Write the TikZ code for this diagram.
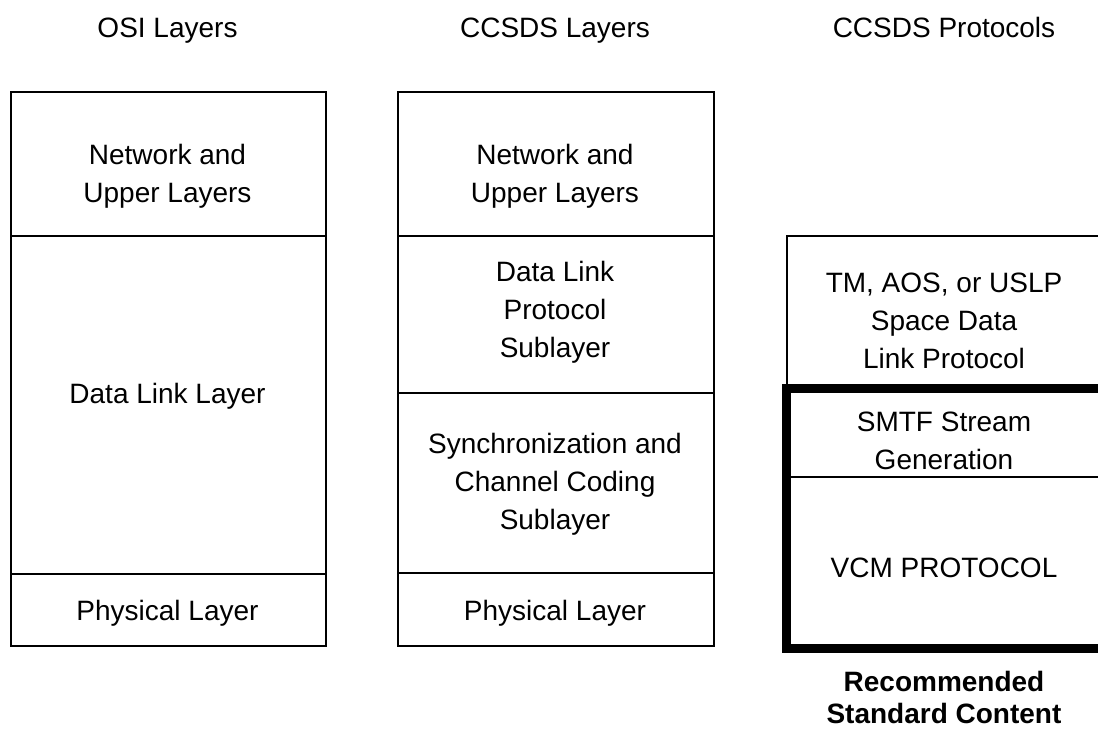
\documentclass[tikz,border=0pt]{standalone}
\usepackage{fontspec}
\setmainfont{Liberation Sans}
\begin{document}
\begin{tikzpicture}[x=1pt,y=-1pt,
  cell/.style={draw, line width=2pt, anchor=north west, inner sep=0pt},
  txt/.style={inner sep=0pt, align=center, anchor=base,
    font=\fontsize{28}{38}\selectfont},
  stdborder/.style={draw, line width=9pt}]
\useasboundingbox (0,0) rectangle (1098,729);
\clip (0,0) rectangle (1098,729);
% headers
\node[txt] (hosi) at (167.5,37) {OSI Layers};
\node[txt] (hccsds) at (555,37) {CCSDS Layers};
\node[txt] (hprot) at (944,37) {CCSDS Protocols};
% OSI column
\node[cell, minimum width=315pt, minimum height=144pt] (osinet) at (10,91) {};
\node[cell, minimum width=315pt, minimum height=338pt] (osidll) at (10,235) {};
\node[cell, minimum width=315pt, minimum height=72pt] (osiphy) at (10,573) {};
\node[txt] (osinet-t) at (167.5,202) {Network and\\Upper Layers};
\node[txt] (osidll-t) at (167.5,403) {Data Link Layer};
\node[txt] (osiphy-t) at (167.5,620) {Physical Layer};
% CCSDS column
\node[cell, minimum width=316pt, minimum height=144pt] (cnet) at (397,91) {};
\node[cell, minimum width=316pt, minimum height=157pt] (cdlp) at (397,235) {};
\node[cell, minimum width=316pt, minimum height=180pt] (csync) at (397,392) {};
\node[cell, minimum width=316pt, minimum height=73pt] (cphy) at (397,572) {};
\node[txt] (cnet-t) at (555,202) {Network and\\Upper Layers};
\node[txt] (cdlp-t) at (555,357) {Data Link\\Protocol\\Sublayer};
\node[txt] (csync-t) at (555,529) {Synchronization and\\Channel Coding\\Sublayer};
\node[txt] (cphy-t) at (555,620) {Physical Layer};
% Protocols column
\node[cell, minimum width=316pt, minimum height=153pt] (ptm) at (786,235) {};
\node[cell, minimum width=316pt, minimum height=88pt] (psmtf) at (786,388) {};
\node[cell, minimum width=316pt, minimum height=170pt] (pvcm) at (786,476) {};
\draw[stdborder] (psmtf.north west) rectangle (pvcm.south east);
\node[txt] (ptm-t) at (944,368) {TM, AOS, or USLP\\Space Data\\Link Protocol};
\node[txt] (psmtf-t) at (944,469) {SMTF Stream\\Generation};
\node[txt] (pvcm-t) at (944,577) {VCM PROTOCOL};
\node[txt, font=\fontsize{28}{32}\selectfont\bfseries] (rsc) at (944,723) {Recommended\\Standard Content};
\end{tikzpicture}
\end{document}
